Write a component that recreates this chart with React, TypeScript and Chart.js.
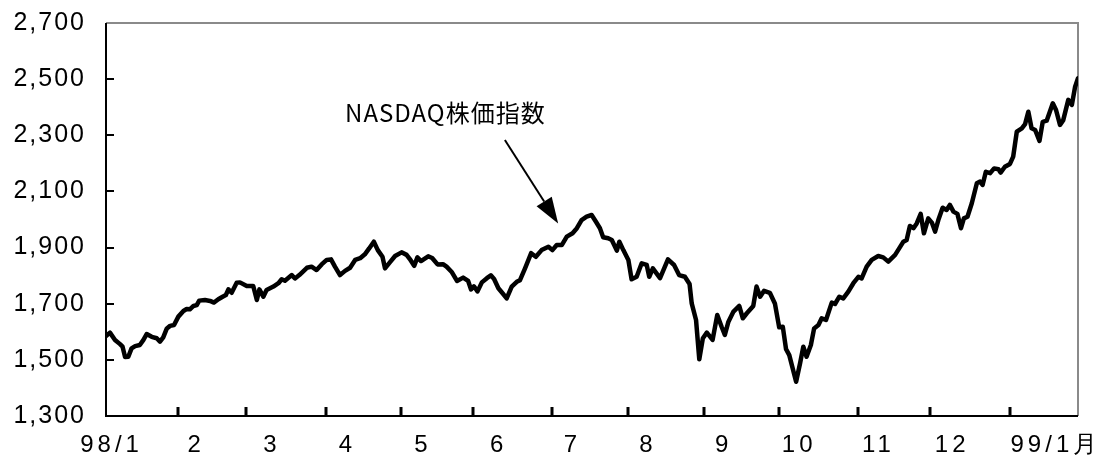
import React, { useEffect, useRef } from "react";
import { Chart, registerables } from "chart.js";

Chart.register(...registerables);

// Trading-day index (Jan 1998 = day 0 ... end of Jan 1999 ≈ day 270)
const tradingDays = [
  0, 1.1, 2.5, 3.9, 4.6, 5.3, 6.2, 7.1, 8.1, 9.4, 10.4, 11.3, 12.7, 14.1, 15, 15.9, 16.9, 17.8, 18.9,
  20.1, 21.5, 22.4, 23.3, 24.3, 25.2, 25.9, 27.5, 28.9, 30, 31.2, 32.4, 33.3, 34, 34.9, 36.3, 37.2,
  39.1, 40.9, 41.9, 42.6, 43.7, 44.6, 46.5, 47.9, 48.8, 49.7, 51.6, 52.5, 53.7, 55.8, 57.1, 58.5, 59.9,
  61.3, 62.5, 63.6, 65, 66.4, 67.8, 69.2, 70.6, 71.9, 73.1, 74.4, 75.5, 76.8, 77.5, 78.9, 80.3,
  82.1, 83.5, 84.4, 85.6, 86.5, 87.5, 89.5, 90.6, 92.1, 93.6, 94.6, 96.1, 97.5, 99.2, 100.6,
  101.4, 102.2, 103.2, 104.4, 105.8, 106.9, 107.8, 109, 110.1, 111.3, 112.7, 114.1, 115, 116.4,
  118.1, 119.4, 121, 122.9, 124, 125.2, 126.6, 128, 129.6, 130.8, 132.1, 133.5, 134.9, 136.1,
  137.2, 138.1, 139.5, 140.5, 141.9, 142.6, 143.7, 145.1, 146, 147.4, 148.8, 150.2, 150.9, 151.9,
  153.9, 156.1, 157.8, 159.2, 160.8, 162.1, 162.7, 163.9, 164.8, 165.8, 166.9, 168.5, 169.8, 171,
  171.9, 172.9, 174.3, 175.9, 176.9, 178, 179.8, 180.7, 181.7, 182.8, 184.4, 185.8, 187, 188,
  188.9, 189.8, 191.7, 192.8, 193.7, 194.6, 195.8, 196.7, 197.9, 198.8, 200, 201.6, 202.5, 203.7,
  204.8, 206.2, 207.6, 209, 209.9, 211.3, 212.7, 214.5, 215.9, 217.3, 219.2, 221.5, 222.4, 223.3,
  224.3, 225.2, 226.3, 227.2, 228.4, 229.4, 230.3, 231.2, 232.4, 233.5, 234.4, 235.4, 236.5, 237.5,
  238.3, 239.3, 240.5, 241.9, 242.8, 243.5, 244.4, 245.6, 246.7, 247.9, 248.5, 249.7, 251.1, 252,
  253, 254.4, 255.3, 256.2, 257.1, 258.1, 259.3, 260.2, 261.3, 263, 263.9, 265, 265.9, 267.3,
  268.3, 269.2, 270,
];

const nasdaqValues = [
  1585, 1597, 1571, 1556, 1547, 1510, 1511, 1541, 1549, 1553, 1571, 1592, 1582, 1577, 1565, 1580, 1612, 1621, 1624,
  1654, 1674, 1681, 1680, 1692, 1695, 1711, 1713, 1710, 1704, 1716, 1725, 1731, 1751, 1739, 1775, 1776,
  1763, 1763, 1713, 1751, 1725, 1749, 1761, 1773, 1787, 1782, 1802, 1790, 1802, 1828, 1832, 1820, 1840,
  1856, 1858, 1832, 1802, 1817, 1828, 1856, 1862, 1876, 1897, 1921, 1891, 1867, 1826, 1848, 1870,
  1883, 1874, 1859, 1835, 1865, 1852, 1869, 1863, 1840, 1841, 1832, 1812, 1781, 1793, 1781,
  1751, 1762, 1744, 1776, 1791, 1801, 1788, 1755, 1738, 1719, 1761, 1778, 1784, 1826,
  1880, 1867, 1891, 1903, 1891, 1909, 1909, 1939, 1951, 1969, 1998, 2010, 2016, 1992,
  1969, 1937, 1933, 1927, 1889, 1921, 1891, 1856, 1787, 1796, 1844, 1838, 1796, 1826,
  1791, 1858, 1838, 1802, 1796, 1770, 1701, 1642, 1502, 1577, 1597, 1571, 1660, 1618,
  1589, 1636, 1672, 1692, 1648, 1666, 1692, 1761, 1725, 1746, 1739, 1701, 1616, 1618,
  1538, 1517, 1422, 1488, 1547, 1511, 1553, 1612, 1624, 1648, 1642, 1704, 1699, 1725,
  1719, 1743, 1773, 1796, 1790, 1832, 1856, 1870, 1865, 1850, 1874, 1921, 1927, 1977,
  1969, 1986, 2020, 1951, 2004, 1989, 1957, 1998, 2042, 2034, 2052, 2028, 2020, 1969,
  2004, 2010, 2058, 2129, 2135, 2123, 2170, 2165, 2182, 2179, 2167, 2188, 2198, 2224,
  2313, 2325, 2340, 2384, 2325, 2319, 2280, 2348, 2352, 2414, 2390, 2337, 2354, 2426,
  2408, 2473, 2503,
];

// Month boundaries (trading-day index where each new month starts)
const monthBoundaries = [20, 39, 61, 82, 102, 124, 145, 166, 187, 209, 229, 251];
const monthLabels = ["98/1", "2", "3", "4", "5", "6", "7", "8", "9", "10", "11", "12", "99/1月"];
const monthLabelDays = [1, 24.5, 45.5, 66.5, 87.5, 108.5, 129, 150, 171, 192, 214, 234.5, 263.3];

const yMin = 1300;
const yMax = 2700;
const yStep = 200;

const annotationText = "NASDAQ株価指数";
const annotationTextAt = { day: 66.4, value: 2379 };
const arrowFrom = { day: 110.8, value: 2283 };
const arrowTo = { day: 125.6, value: 1986 };

const decorPlugin = {
  id: "decor",
  beforeDraw(chart: any) {
    chart.ctx.letterSpacing = "2px";
  },
  beforeDatasetsDraw(chart: any) {
    const { ctx, chartArea: a, scales } = chart;
    const xs = scales.x;
    const ys = scales.y;
    ctx.save();
    ctx.lineCap = "butt";
    // top & right frame (gray)
    ctx.strokeStyle = "#8a8a8a";
    ctx.lineWidth = 2;
    ctx.beginPath();
    ctx.moveTo(a.left, a.top);
    ctx.lineTo(a.right, a.top);
    ctx.lineTo(a.right, a.bottom);
    ctx.stroke();
    // left & bottom axes (black)
    ctx.strokeStyle = "#000";
    ctx.beginPath();
    ctx.moveTo(a.left, a.top);
    ctx.lineTo(a.left, a.bottom);
    ctx.lineTo(a.right, a.bottom);
    ctx.stroke();
    // inward y tick marks
    ctx.lineWidth = 2;
    ctx.beginPath();
    for (const t of ys.ticks) {
      if (t.value <= yMin || t.value >= yMax) continue;
      const py = Math.round(ys.getPixelForValue(t.value));
      ctx.moveTo(a.left, py);
      ctx.lineTo(a.left + 8, py);
    }
    ctx.stroke();
    // inward month tick marks
    ctx.lineWidth = 3;
    ctx.beginPath();
    for (const d of monthBoundaries) {
      const px = Math.round(xs.getPixelForValue(d));
      ctx.moveTo(px, a.bottom);
      ctx.lineTo(px, a.bottom - 9);
    }
    ctx.stroke();
    ctx.restore();
  },
  afterDraw(chart: any) {
    const { ctx, chartArea: a, scales } = chart;
    const xs = scales.x;
    const ys = scales.y;
    ctx.save();
    // month labels
    ctx.fillStyle = "#000";
    ctx.font = '24px "Liberation Sans", Arial, sans-serif';
    ctx.letterSpacing = "4px";
    ctx.textAlign = "center";
    ctx.textBaseline = "middle";
    monthLabels.forEach((lab, i) => {
      const px = xs.getPixelForValue(monthLabelDays[i]);
      ctx.fillText(lab, px + 2, a.bottom + 29);
    });
    // annotation text
    ctx.letterSpacing = "1px";
    ctx.font = '24px "Noto Sans CJK JP", sans-serif';
    ctx.textAlign = "left";
    ctx.fillText(annotationText, xs.getPixelForValue(annotationTextAt.day), ys.getPixelForValue(annotationTextAt.value));
    // arrow
    const x1 = xs.getPixelForValue(arrowFrom.day);
    const y1 = ys.getPixelForValue(arrowFrom.value);
    const x2 = xs.getPixelForValue(arrowTo.day);
    const y2 = ys.getPixelForValue(arrowTo.value);
    const ang = Math.atan2(y2 - y1, x2 - x1);
    const headLen = 26;
    const headHalf = 9;
    const bx = x2 - headLen * Math.cos(ang);
    const by = y2 - headLen * Math.sin(ang);
    ctx.strokeStyle = "#000";
    ctx.lineWidth = 2;
    ctx.beginPath();
    ctx.moveTo(x1, y1);
    ctx.lineTo(bx, by);
    ctx.stroke();
    ctx.beginPath();
    ctx.moveTo(x2, y2);
    ctx.lineTo(bx + headHalf * Math.sin(ang), by - headHalf * Math.cos(ang));
    ctx.lineTo(bx - headHalf * Math.sin(ang), by + headHalf * Math.cos(ang));
    ctx.closePath();
    ctx.fillStyle = "#000";
    ctx.fill();
    ctx.restore();
    ctx.letterSpacing = "0px";
  },
};

export default function App() {
  const canvasRef = useRef<HTMLCanvasElement | null>(null);

  useEffect(() => {
    const canvas = canvasRef.current;
    if (!canvas) return;
    const points = tradingDays.map((d, i) => ({ x: d, y: nasdaqValues[i] }));
    const chart = new Chart(canvas, {
      type: "line",
      data: {
        datasets: [
          {
            label: annotationText,
            data: points,
            borderColor: "#000",
            borderWidth: 4.5,
            pointRadius: 0,
            tension: 0,
            borderJoinStyle: "round",
            borderCapStyle: "round",
            fill: false,
          },
        ],
      },
      options: {
        animation: false,
        responsive: false,
        devicePixelRatio: 1,
        layout: { autoPadding: false, padding: { top: 23, right: 20, bottom: 45, left: 0 } },
        plugins: { legend: { display: false }, tooltip: { enabled: false } },
        scales: {
          x: {
            type: "linear",
            min: 0,
            max: 270,
            display: false,
          },
          y: {
            min: yMin,
            max: yMax,
            grid: { display: false, drawTicks: false },
            border: { display: false },
            ticks: {
              stepSize: yStep,
              padding: 20,
              color: "#000",
              font: { family: '"Liberation Sans", Arial, sans-serif', size: 25 },
              callback: (v: any) => Number(v).toLocaleString("en-US"),
            },
            afterFit: (scale: any) => {
              scale.width = 106;
              scale.paddingTop = 0;
              scale.paddingBottom = 0;
            },
          },
        },
      },
      plugins: [decorPlugin],
    });
    return () => chart.destroy();
  }, []);

  return (
    <div style={{ position: "fixed", left: 0, top: 0, width: 1098, height: 461, background: "#fff" }}>
      <canvas ref={canvasRef} width={1098} height={461} style={{ display: "block" }} />
    </div>
  );
}
